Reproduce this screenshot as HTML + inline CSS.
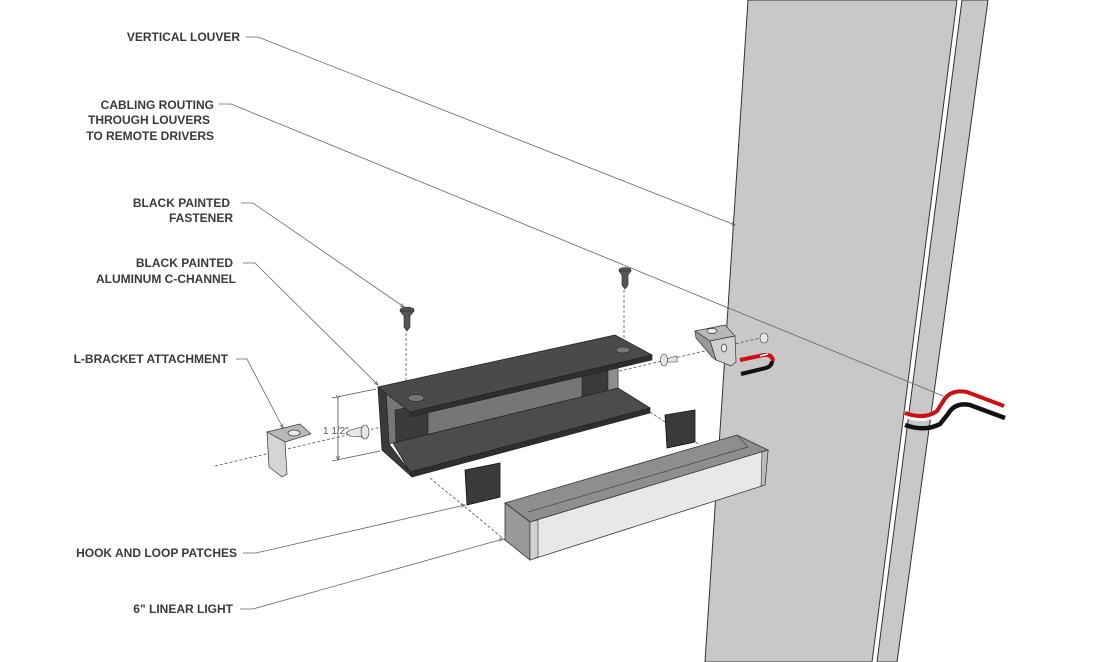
<!DOCTYPE html>
<html><head><meta charset="utf-8"><style>
html,body{margin:0;padding:0;background:#fff;}
svg{display:block;}
text{font-family:"Liberation Sans",sans-serif;font-weight:bold;font-size:12px;fill:#3a3a3a;}
</style></head><body>
<svg width="1096" height="662" viewBox="0 0 1096 662" xmlns="http://www.w3.org/2000/svg">
<defs>
<marker id="a" markerWidth="6" markerHeight="6" refX="5" refY="3" orient="auto"><path d="M0,1 L5,3 L0,5" fill="none" stroke="#555" stroke-width="0.8"/></marker>
</defs>
<!-- louver -->
<polygon points="748,0 957,0 872,662 705,662" fill="#c8c8c8" stroke="#333" stroke-width="1"/>
<polygon points="962,0 988,0 897,662 877,662" fill="#c8c8c8" stroke="#333" stroke-width="1"/>
<line x1="959" y1="0" x2="874" y2="662" stroke="#fff" stroke-width="2"/>

<!-- labels -->
<g text-anchor="end">
<text x="240" y="41">VERTICAL LOUVER</text>
<text x="214" y="109">CABLING ROUTING</text>
<text x="210" y="124">THROUGH LOUVERS</text>
<text x="214" y="140">TO REMOTE DRIVERS</text>
<text x="230" y="207">BLACK PAINTED</text>
<text x="233" y="222">FASTENER</text>
<text x="233" y="267">BLACK PAINTED</text>
<text x="236" y="283">ALUMINUM C-CHANNEL</text>
<text x="228" y="363">L-BRACKET ATTACHMENT</text>
<text x="237" y="557">HOOK AND LOOP PATCHES</text>
<text x="233" y="613">6" LINEAR LIGHT</text>
</g>
<g fill="none" stroke="#666" stroke-width="0.8">
<polyline points="246,37 258,37 735,225" marker-end="url(#a)"/>
<polyline points="219,104 231,104 948,398" marker-end="url(#a)"/>
<polyline points="241,203 253,203 404,307" marker-end="url(#a)"/>
<polyline points="243,263 255,263 378,385" marker-end="url(#a)"/>
<polyline points="236,359 247,359 283,428" marker-end="url(#a)"/>
<polyline points="243,553 256,553 465,505" marker-end="url(#a)"/>
<polyline points="240,609 253,609 503,539" marker-end="url(#a)"/>
</g>

<!-- dashed axes -->
<g fill="none" stroke="#555" stroke-width="0.8" stroke-dasharray="3,2">
<line x1="215" y1="466" x2="760" y2="338"/>
<line x1="406" y1="333" x2="406" y2="398"/>
<line x1="624" y1="290" x2="624" y2="345"/>
<line x1="430" y1="478" x2="505" y2="540"/>
<line x1="650" y1="412" x2="700" y2="445"/>
</g>

<!-- dimension -->
<g stroke="#555" stroke-width="0.8" fill="none">
<line x1="332" y1="398" x2="376" y2="389"/>
<line x1="332" y1="461" x2="380" y2="451"/>
<line x1="338" y1="399" x2="338" y2="460" marker-end="url(#a)" marker-start="url(#a)"/>
</g>
<text x="323" y="434" style="font-weight:normal;font-size:10px;fill:#555">1 1/2"</text>

<!-- C-channel -->
<polygon points="382,395 618,340 618,388 393,443 382,447" fill="#767676" stroke="#222" stroke-width="0.6"/>
<polygon points="395,410 428,403 428,436 396,444" fill="#3a3a3a" stroke="#222" stroke-width="0.6"/>
<polygon points="582,373 608,368 608,392 582,397" fill="#3a3a3a" stroke="#222" stroke-width="0.6"/>
<polygon points="608,366 618,364 618,388 608,392" fill="#8e8e8e" stroke="#222" stroke-width="0.5"/>
<!-- bottom plate -->
<polygon points="393,443 618,388 650,408 410,472" fill="#4c4c4c" stroke="#222" stroke-width="0.8"/>
<polygon points="410,472 650,408 650,413 412,477" fill="#2e2e2e" stroke="#222" stroke-width="0.6"/>
<!-- left end (C profile) -->
<polygon points="378,387 386,392 389,444 410,472 412,477 382,450" fill="#3a3a3a" stroke="#222" stroke-width="0.8"/>
<!-- top plate -->
<polygon points="378,387 615,335 652,355 410,412" fill="#4a4a4a" stroke="#222" stroke-width="0.8"/>
<polygon points="410,412 652,355 652,360 410,417" fill="#2e2e2e" stroke="#222" stroke-width="0.6"/>
<ellipse cx="416" cy="398" rx="8" ry="3.5" fill="#777" stroke="#222" stroke-width="0.6"/>
<ellipse cx="623" cy="350" rx="7" ry="3" fill="#777" stroke="#222" stroke-width="0.6"/>

<!-- patches -->
<polygon points="465,470 500,463 500,497 467,505" fill="#3a3a3a" stroke="#111" stroke-width="0.8"/>
<polygon points="665,415 695,410 695,442 667,448" fill="#3a3a3a" stroke="#111" stroke-width="0.8"/>

<!-- linear light -->
<polygon points="505,503 737,435 768,450 530,522" fill="#8e8e8e" stroke="#333" stroke-width="0.8"/>
<polyline points="528,512 748,447" stroke="#444" stroke-width="0.7" fill="none"/>
<polyline points="737,435 748,447" stroke="#444" stroke-width="0.6" fill="none"/>
<polygon points="530,522 768,450 765,485 530,560" fill="#e8e8e8" stroke="#333" stroke-width="0.8"/>
<polygon points="505,503 530,522 530,560 505,540" fill="#999" stroke="#333" stroke-width="0.8"/>
<polygon points="530,522 538,520 538,557 530,560" fill="#d0d0d0" stroke="#333" stroke-width="0.6"/>
<polygon points="762,452 768,450 765,485 761,486" fill="#bcbcbc" stroke="#333" stroke-width="0.6"/>

<!-- screws -->
<g fill="#555" stroke="#222" stroke-width="0.6">
<ellipse cx="407" cy="310" rx="7" ry="3"/>
<polygon points="400,311 414,311 410,316 410,327 407,331 404,327 404,316"/>
<ellipse cx="625" cy="270" rx="6" ry="2.5"/>
<polygon points="619,271 631,271 628,275 628,285 625,289 622,285 622,275"/>
</g>
<g fill="#e6e6e6" stroke="#333" stroke-width="0.6">
<polygon points="350,430 362,427 362,437 350,436 346,433"/>
<ellipse cx="365" cy="432" rx="4" ry="7"/>
<polygon points="666,359 677,356 677,362 666,362"/>
<ellipse cx="664" cy="360" rx="3.5" ry="6"/>
<ellipse cx="764" cy="338" rx="4" ry="5"/>
</g>

<!-- L-brackets -->
<g fill="#b8b8b8" stroke="#333" stroke-width="0.7">
<polygon points="267,432 300,424 311,434 285,442"/>
<polygon points="267,432 285,442 287,474 282,477 269,467" fill="#d4d4d4"/>
<ellipse cx="294" cy="433" rx="6" ry="3" fill="#eee"/>
<polygon points="695,331 725,325 735,336 710,341"/>
<polygon points="710,341 735,336 736,362 731,366 716,360" fill="#d0d0d0"/>
<polygon points="695,331 710,341 716,360 712,357 696,338" fill="#999"/>
<ellipse cx="712" cy="331" rx="5" ry="2.5" fill="#eee"/>
<ellipse cx="724" cy="348" rx="2.5" ry="4" fill="#eee"/>
</g>

<!-- wire stubs -->
<path d="M741,374 L766,368 Q772,366 772,361" stroke="#111" stroke-width="4" fill="none"/>
<path d="M740,360 L764,355 Q772,354 773,361" stroke="#d01010" stroke-width="4" fill="none"/>
<path d="M760,356 L768,354" stroke="#fff" stroke-width="1.5" fill="none"/>

<!-- cable through louver -->
<path d="M905,425 Q925,432 940,424 L948,414 Q955,402 970,405 L1005,418" stroke="#111" stroke-width="4.5" fill="none"/>
<path d="M905,416 Q925,423 938,414 L945,403 Q952,392 968,395 L1004,410" stroke="#fff" stroke-width="4" fill="none"/>
<path d="M905,413 Q925,420 937,411 L944,400 Q951,389 967,392 L1004,406" stroke="#d01010" stroke-width="4" fill="none"/>
</svg>
</body></html>
